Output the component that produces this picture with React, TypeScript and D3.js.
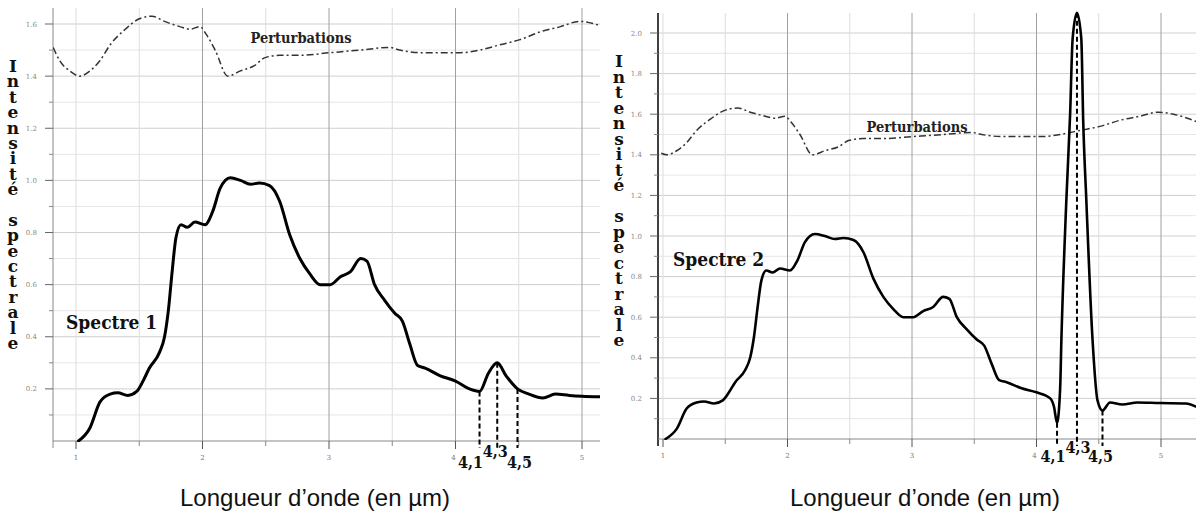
import React from "react";
import * as d3 from "d3";

// ---------- DATA ----------
const xTicks = [1, 2, 3, 4, 5];
const xMinorTicks = [1.5, 2.5, 3.5, 4.5];
const yTicksLeft = [0.2, 0.4, 0.6, 0.8, 1.0, 1.2, 1.4, 1.6];
const yTicksRight = [0.2, 0.4, 0.6, 0.8, 1.0, 1.2, 1.4, 1.6, 1.8, 2.0];

// common part of the spectrum (lambda in µm, intensity)
const spectreBase: [number, number][] = [
  [1.02, 0.0], [1.11, 0.05], [1.19, 0.15], [1.27, 0.18], [1.33, 0.185], [1.41, 0.175],
  [1.48, 0.19], [1.53, 0.23], [1.58, 0.28], [1.66, 0.34], [1.70, 0.40], [1.73, 0.50],
  [1.76, 0.65], [1.79, 0.78], [1.83, 0.83], [1.88, 0.82], [1.94, 0.84], [2.02, 0.83],
  [2.08, 0.88], [2.14, 0.97], [2.22, 1.01], [2.30, 1.0], [2.38, 0.985], [2.45, 0.99],
  [2.53, 0.98], [2.61, 0.92], [2.69, 0.79], [2.77, 0.70], [2.85, 0.64], [2.93, 0.60],
  [3.01, 0.60], [3.09, 0.63], [3.17, 0.65], [3.25, 0.70], [3.30, 0.69], [3.36, 0.60],
  [3.44, 0.54], [3.52, 0.49], [3.58, 0.46], [3.64, 0.37], [3.70, 0.29], [3.76, 0.28],
  [3.88, 0.25], [4.0, 0.23], [4.11, 0.20],
];
const spectre1Tail: [number, number][] = [
  [4.19, 0.19], [4.26, 0.26], [4.33, 0.30], [4.40, 0.25], [4.49, 0.20], [4.58, 0.18],
  [4.69, 0.165], [4.79, 0.18], [4.90, 0.175], [5.0, 0.172], [5.14, 0.17],
];
const spectre2Tail: [number, number][] = [
  [4.14, 0.16], [4.165, 0.08], [4.19, 0.25], [4.20, 0.49], [4.24, 1.18], [4.27, 1.6],
  [4.29, 1.97], [4.325, 2.10], [4.36, 1.97], [4.375, 1.57], [4.40, 1.18], [4.45, 0.49],
  [4.49, 0.19], [4.53, 0.14], [4.59, 0.18], [4.69, 0.17], [4.81, 0.18], [4.99, 0.177],
  [5.2, 0.175], [5.28, 0.16],
];
const perturbations: [number, number][] = [
  [0.82, 1.51], [0.87, 1.46], [0.95, 1.42], [1.03, 1.40], [1.11, 1.42], [1.19, 1.46],
  [1.27, 1.52], [1.39, 1.58], [1.5, 1.62], [1.6, 1.63], [1.70, 1.61], [1.82, 1.59],
  [1.9, 1.58], [1.98, 1.59], [2.03, 1.56], [2.10, 1.50], [2.20, 1.40], [2.30, 1.42],
  [2.41, 1.44], [2.49, 1.47], [2.61, 1.48], [2.77, 1.48], [3.01, 1.49], [3.25, 1.50],
  [3.48, 1.51], [3.56, 1.50], [3.72, 1.49], [3.88, 1.49], [4.04, 1.49], [4.19, 1.50],
  [4.35, 1.52], [4.51, 1.54], [4.67, 1.57], [4.83, 1.59], [4.98, 1.61], [5.1, 1.60],
  [5.3, 1.56],
];
const markers1: [number, number][] = [[4.19, 0.19], [4.33, 0.30], [4.49, 0.20]];
const markers2: [number, number][] = [[4.165, 0.08], [4.325, 2.10], [4.53, 0.14]];
const markerLabels = ["4,1", "4,3", "4,5"];
const yTitle = "Intensité spectrale";
const xTitle = "Longueur d\u2019onde (en \u00b5m)";

// ---------- LAYOUT ----------
const W = 1196, H = 511;
const serifC = "'DejaVu Serif Condensed', 'DejaVu Serif', serif";
const serifB = "'DejaVu Serif', serif";

type PanelCfg = {
  id: string; axisX: number; top: number; right: number;
  xr: [number, number]; yr: [number, number];
  yTicks: number[]; yAxisColor: string; yAxisWidth: number;
  letterX: number; letterTop: number; letterLen: number; titleX: number;
  spectre: [number, number][]; markers: [number, number][];
  labelDx: number[]; labelBase: number[];
  specLabel: string; specLabelPos: [number, number]; pertLabelPos: [number, number];
  lineW: number;
};

const panels: PanelCfg[] = [
  {
    id: "L", axisX: 53, top: 8, right: 600, xr: [76, 582], yr: [441, 24],
    yTicks: yTicksLeft, yAxisColor: "#888", yAxisWidth: 1,
    letterX: 13, letterTop: 56, letterLen: 297, titleX: 315,
    spectre: [...spectreBase, ...spectre1Tail], markers: markers1,
    labelDx: [-9, -2, 2], labelBase: [468, 457, 468],
    specLabel: "Spectre 1", specLabelPos: [66, 329], pertLabelPos: [301, 43],
    lineW: 3,
  },
  {
    id: "R", axisX: 658, top: 13, right: 1196, xr: [663, 1161], yr: [439, 33],
    yTicks: yTicksRight, yAxisColor: "#111", yAxisWidth: 1.6,
    letterX: 619, letterTop: 51, letterLen: 299, titleX: 925,
    spectre: [...spectreBase, ...spectre2Tail], markers: markers2,
    labelDx: [-4, 1, -2], labelBase: [462, 453, 462],
    specLabel: "Spectre 2", specLabelPos: [673, 266], pertLabelPos: [917, 132],
    lineW: 2.6,
  },
];

function Panel({ p }: { p: PanelCfg }) {
  const x = d3.scaleLinear().domain([1, 5]).range(p.xr);
  const y = d3.scaleLinear().domain([0, p.yTicks[p.yTicks.length - 1]]).range(p.yr);
  const y0 = y(0);
  const xMin = x.invert(p.axisX), xMax = x.invert(p.right);
  const yMax = y.invert(p.top);
  const minorY = d3.range(0.1, yMax, 0.2);
  const line = d3.line<[number, number]>().x(d => x(d[0])).y(d => y(d[1])).curve(d3.curveMonotoneX);
  const vGrid = [...xTicks, ...xMinorTicks].filter(v => v >= xMin && v <= xMax);
  return (
    <g>
      <defs>
        <clipPath id={"clip" + p.id}>
          <rect x={p.axisX} y={0} width={p.right - p.axisX} height={y0 + 1} />
        </clipPath>
      </defs>
      {/* horizontal grid */}
      {minorY.map(v => (
        <line key={"hm" + v} x1={p.axisX} x2={p.right} y1={y(v)} y2={y(v)} stroke="#e6e6e6" strokeWidth={1} />
      ))}
      {p.yTicks.map(v => (
        <line key={"hg" + v} x1={p.axisX} x2={p.right} y1={y(v)} y2={y(v)} stroke="#cfcfcf" strokeWidth={1} />
      ))}
      {/* vertical grid */}
      {vGrid.map(v => (
        <line key={"vg" + v} x1={x(v)} x2={x(v)} y1={p.top} y2={y0}
          stroke={Number.isInteger(v) && v !== 1 ? "#a0a0a0" : "#dedede"} strokeWidth={1} />
      ))}
      {/* y axis */}
      <line x1={p.axisX} x2={p.axisX} y1={p.top} y2={y0 + 7} stroke={p.yAxisColor} strokeWidth={p.yAxisWidth} />
      {p.yTicks.map(v => (
        <g key={"yt" + v}>
          <line x1={p.axisX - 8} x2={p.axisX} y1={y(v)} y2={y(v)} stroke="#666" strokeWidth={1} />
          <text x={p.axisX - 16} y={y(v) + 2.5} fontSize={7} fill="#888" textAnchor="end" fontFamily={serifB}>
            {d3.format(".1f")(v)}
          </text>
        </g>
      ))}
      {minorY.map(v => (
        <line key={"ym" + v} x1={p.axisX - 4} x2={p.axisX} y1={y(v)} y2={y(v)} stroke="#888" strokeWidth={1} />
      ))}
      {/* x axis */}
      <line x1={p.axisX} x2={p.right} y1={y0} y2={y0} stroke="#888" strokeWidth={1} />
      {xTicks.filter(v => v <= xMax).map(v => (
        <g key={"xt" + v}>
          <line x1={x(v)} x2={x(v)} y1={y0} y2={y0 + 8} stroke="#555" strokeWidth={1} />
          <text x={x(v) - (v === 4 ? 2 : 0)} y={y0 + 19} fontSize={7} fill="#777" textAnchor="middle" fontFamily={serifB}>
            {v}
          </text>
        </g>
      ))}
      {xMinorTicks.filter(v => v <= xMax).map(v => (
        <line key={"xm" + v} x1={x(v)} x2={x(v)} y1={y0} y2={y0 + 5} stroke="#888" strokeWidth={1} />
      ))}
      {/* curves */}
      <g clipPath={`url(#clip${p.id})`}>
        <path d={line(perturbations) || ""} fill="none" stroke="#333" strokeWidth={1.5} strokeDasharray="7 3 2 3" />
        <path d={line(p.spectre) || ""} fill="none" stroke="#000" strokeWidth={p.lineW} strokeLinejoin="round" strokeLinecap="round" />
      </g>
      {/* dashed markers */}
      {p.markers.map((m, i) => (
        <g key={"mk" + i}>
          <line x1={x(m[0])} x2={x(m[0])} y1={y(m[1])} y2={y0 + 7} stroke="#000" strokeWidth={2} strokeDasharray="5 3" />
          <text x={x(m[0]) + p.labelDx[i]} y={p.labelBase[i]} fontSize={16} fontWeight="bold" textAnchor="middle"
            fontFamily={serifC} fill="#111">
            {markerLabels[i]}
          </text>
        </g>
      ))}
      {/* labels */}
      <text x={p.specLabelPos[0]} y={p.specLabelPos[1]} fontSize={19} fontWeight="bold" fontFamily={serifC} fill="#111">
        {p.specLabel}
      </text>
      <text x={p.pertLabelPos[0]} y={p.pertLabelPos[1]} fontSize={14.5} fontWeight="bold" fontFamily={serifC} fill="#222" textAnchor="middle">
        Perturbations
      </text>
      <text x={p.letterX} y={p.letterTop} fontSize={17} fontWeight="bold" fontFamily={serifB} fill="#111"
        textLength={p.letterLen} lengthAdjust="spacing"
        style={{ writingMode: "vertical-rl", textOrientation: "upright" } as React.CSSProperties}>
        {yTitle}
      </text>
      <text x={p.titleX} y={506} fontSize={24} fontFamily="'Liberation Sans', Arial, sans-serif" textAnchor="middle" fill="#111">
        {xTitle}
      </text>
    </g>
  );
}

export default function App() {
  return (
    <svg width={W} height={H} viewBox={`0 0 ${W} ${H}`}
      style={{ position: "absolute", left: 0, top: 0, background: "#fff", display: "block" }}>
      <rect x={0} y={0} width={W} height={H} fill="#fff" />
      {panels.map(p => <Panel key={p.id} p={p} />)}
    </svg>
  );
}
